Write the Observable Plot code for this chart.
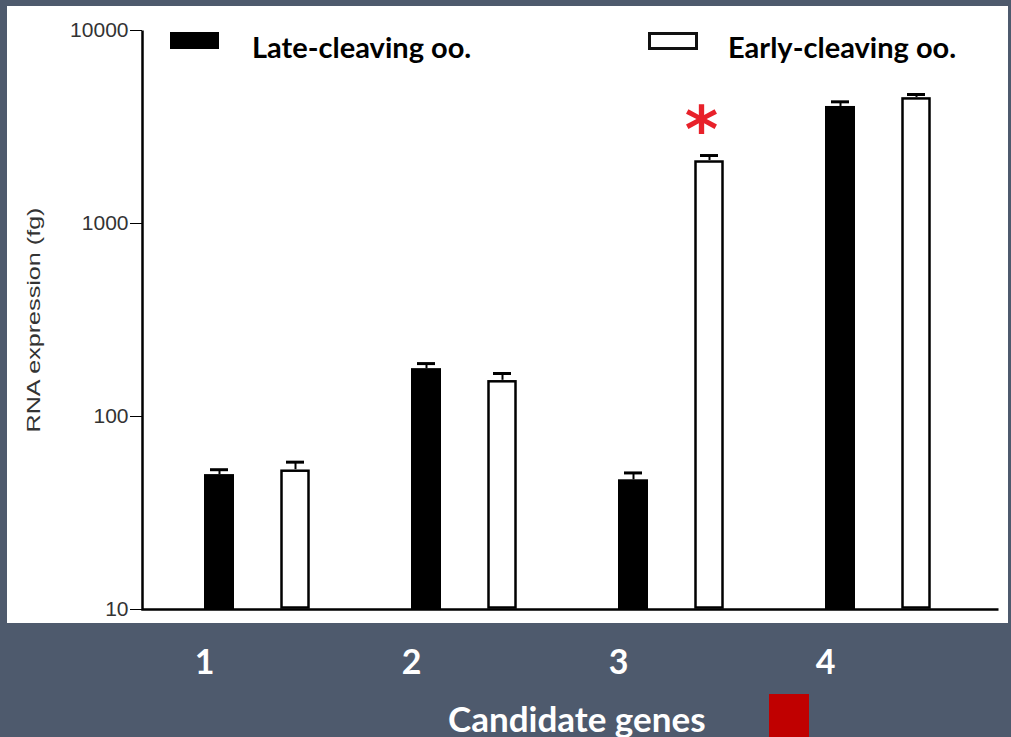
<!DOCTYPE html>
<html>
<head>
<meta charset="utf-8">
<script src="https://cdn.jsdelivr.net/npm/d3@7"></script>
<script src="https://cdn.jsdelivr.net/npm/@observablehq/plot@0.6"></script>
<style>
  html, body { margin: 0; padding: 0; }
  body { width: 1011px; height: 737px; background: #4e5a6d; position: relative; overflow: hidden; font-family: Lato, "Open Sans", sans-serif; }
  #panel { position: absolute; left: 7px; top: 6px; width: 1001px; height: 617px; background: #ffffff; }
  #chart { position: absolute; left: 0; top: 0; }
  #chart svg { background: transparent !important; }
  .leg { position: absolute; font-weight: 700; font-size: 29px; line-height: 29px; color: #000; white-space: nowrap; }
  .sw { position: absolute; box-sizing: border-box; }
  #caption { position: absolute; left: 448px; top: 701px; font-weight: 700; font-size: 35px; line-height: 35px; color: #fff; white-space: nowrap; }
  #redsq { position: absolute; left: 769px; top: 694px; width: 40px; height: 50px; background: #c00000; }
</style>
</head>
<body>
<div id="panel"></div>
<div id="chart"></div>
<div class="sw" style="left:170px;top:32px;width:49px;height:17px;background:#000;"></div>
<div class="leg" id="leg1" style="left:252px;top:32px;">Late-cleaving oo.</div>
<div class="sw" style="left:648px;top:32px;width:50px;height:18px;background:#fff;border:3px solid #111;"></div>
<div class="leg" id="leg2" style="left:728px;top:32px;">Early-cleaving oo.</div>
<div id="caption">Candidate genes</div>
<div id="redsq"></div>
<script>
// ---- data ----
const genes = ["1", "2", "3", "4"];
const lateValues = [50, 177, 47, 4040];
const lateErrors = [3, 11, 4, 230];
const earlyValues = [53, 154, 2120, 4500];
const earlyErrors = [5, 13, 130, 160];
const earlySignificant = [false, false, true, false];
const yTicks = [10, 100, 1000, 10000];

const late = genes.map((g, i) => ({gene: g, value: lateValues[i], err: lateErrors[i]}));
const early = genes.map((g, i) => ({gene: g, value: earlyValues[i], err: earlyErrors[i], sig: earlySignificant[i]}));

const off = 38;
const plot = Plot.plot({
  width: 1011,
  height: 737,
  marginTop: 30,
  marginBottom: 128,
  marginLeft: 142,
  marginRight: 13,
  style: {background: "transparent"},
  x: {domain: genes, range: [152.4, 982.8], paddingInner: 0.855, paddingOuter: 0.4275},
  y: {type: "log", domain: [10, 10000]},
  marks: [
    Plot.frame({stroke: "#000", strokeWidth: 2.5, strokeDasharray: `0 ${856 + 579} ${856 + 579}`}),
    Plot.barY(late, {x: "gene", y1: 10, y2: "value", fill: "#000", dx: -off}),
    Plot.ruleX(late, {x: "gene", y1: "value", y2: d => d.value + d.err, stroke: "#000", strokeWidth: 2, dx: -off}),
    Plot.tickY(late, {x: "gene", y: d => d.value + d.err, stroke: "#000", strokeWidth: 3, inset: 6, dx: -off}),
    Plot.ruleX(early, {x: "gene", y1: "value", y2: d => d.value + d.err, stroke: "#000", strokeWidth: 2, dx: off}),
    Plot.tickY(early, {x: "gene", y: d => d.value + d.err, stroke: "#000", strokeWidth: 3, inset: 6, dx: off}),
    Plot.barY(early, {x: "gene", y1: 10, y2: "value", fill: "#fff", stroke: "#000", strokeWidth: 2.5, inset: 1.5, dx: off}),
    Plot.text(early.filter(d => d.sig), {x: "gene", y: d => d.value + d.err, text: () => "*", dx: off - 8, dy: -24, fill: "#e8212a", fontSize: 64, fontWeight: "bold", fontFamily: "DejaVu Sans"}),
    Plot.axisY({ticks: yTicks, tickFormat: d => String(d), tickSize: 12, tickPadding: 2, fontSize: 21, fontFamily: "Liberation Sans", fill: "#333", stroke: "#000",
      label: "RNA expression (fg)", labelAnchor: "center", labelOffset: 116, labelArrow: "none"}),
    Plot.axisX({tickSize: 0, tickPadding: 40, dx: -53, fontSize: 34, fontWeight: "bold", fontFamily: "Lato", fill: "#fff", label: null})
  ]
});
document.getElementById("chart").appendChild(plot);
// stretch y-axis label to its measured length in the reference
const lab = plot.querySelector('[aria-label="y-axis label"] text');
if (lab) {
  lab.setAttribute("textLength", 225);
  lab.setAttribute("lengthAdjust", "spacingAndGlyphs");
  lab.style.fontSize = "19px";
  lab.style.fill = "#333";
  lab.style.fontFamily = "Liberation Sans";
}
</script>
</body>
</html>
